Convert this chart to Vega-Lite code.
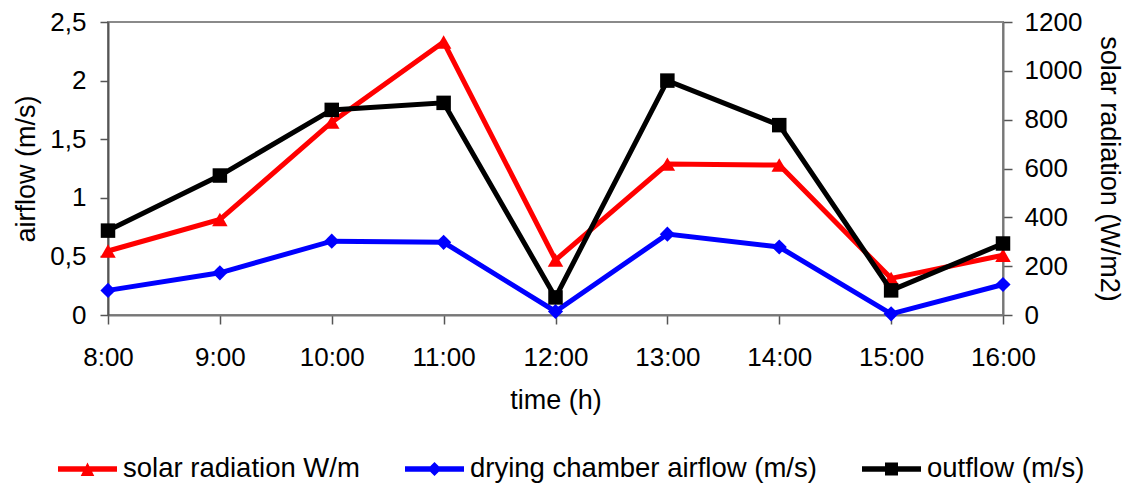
{
  "$schema": "https://vega.github.io/schema/vega-lite/v6.json",
  "autosize": {"type": "none"},
  "padding": {"left": 108, "top": 22, "right": 132, "bottom": 171},
  "width": 895,
  "height": 293,
  "background": "white",
  "config": {
    "font": "Liberation Sans",
    "view": {"stroke": "#8a8a8a", "strokeWidth": 2},
    "axis": {
      "labelFont": "Liberation Sans", "labelFontSize": 26, "labelColor": "#000000",
      "titleFont": "Liberation Sans", "titleFontSize": 27, "titleFontWeight": "normal", "titleColor": "#000000",
      "domainColor": "#555555", "domainWidth": 2, "tickColor": "#555555", "tickWidth": 1.5, "tickSize": 8,
      "grid": false
    }
  },
  "data": {"values": [
    {"time": "8:00", "series": "solar radiation W/m", "value": 262},
    {"time": "9:00", "series": "solar radiation W/m", "value": 391},
    {"time": "10:00", "series": "solar radiation W/m", "value": 790},
    {"time": "11:00", "series": "solar radiation W/m", "value": 1118},
    {"time": "12:00", "series": "solar radiation W/m", "value": 225},
    {"time": "13:00", "series": "solar radiation W/m", "value": 618},
    {"time": "14:00", "series": "solar radiation W/m", "value": 614},
    {"time": "15:00", "series": "solar radiation W/m", "value": 150},
    {"time": "16:00", "series": "solar radiation W/m", "value": 245},
    {"time": "8:00", "series": "drying chamber airflow (m/s)", "value": 0.21},
    {"time": "9:00", "series": "drying chamber airflow (m/s)", "value": 0.36},
    {"time": "10:00", "series": "drying chamber airflow (m/s)", "value": 0.63},
    {"time": "11:00", "series": "drying chamber airflow (m/s)", "value": 0.62},
    {"time": "12:00", "series": "drying chamber airflow (m/s)", "value": 0.03},
    {"time": "13:00", "series": "drying chamber airflow (m/s)", "value": 0.69},
    {"time": "14:00", "series": "drying chamber airflow (m/s)", "value": 0.58},
    {"time": "15:00", "series": "drying chamber airflow (m/s)", "value": 0.01},
    {"time": "16:00", "series": "drying chamber airflow (m/s)", "value": 0.26},
    {"time": "8:00", "series": "outflow (m/s)", "value": 0.72},
    {"time": "9:00", "series": "outflow (m/s)", "value": 1.19},
    {"time": "10:00", "series": "outflow (m/s)", "value": 1.75},
    {"time": "11:00", "series": "outflow (m/s)", "value": 1.81},
    {"time": "12:00", "series": "outflow (m/s)", "value": 0.15},
    {"time": "13:00", "series": "outflow (m/s)", "value": 2.0},
    {"time": "14:00", "series": "outflow (m/s)", "value": 1.62},
    {"time": "15:00", "series": "outflow (m/s)", "value": 0.21},
    {"time": "16:00", "series": "outflow (m/s)", "value": 0.61}
  ]},
  "encoding": {
    "x": {
      "field": "time", "type": "ordinal",
      "sort": ["8:00","9:00","10:00","11:00","12:00","13:00","14:00","15:00","16:00"],
      "scale": {"type": "point", "padding": 0},
      "axis": {"title": "time (h)", "labelAngle": 0, "labelPadding": 20, "titlePadding": 17, "domainColor": "#777777", "tickSize": 9}
    },
    "color": {
      "field": "series", "type": "nominal",
      "scale": {"domain": ["solar radiation W/m", "drying chamber airflow (m/s)", "outflow (m/s)"], "range": ["#ff0000", "#0000ff", "#000000"]},
      "legend": {
        "orient": "none", "legendX": -50, "legendY": 417.5, "direction": "horizontal",
        "title": null, "padding": 0,
        "labelFont": "Liberation Sans", "labelFontSize": 27.5, "labelColor": "#000000", "labelLimit": 0,
        "labelOffset": 6, "columnPadding": 45, "symbolSize": 3481, "symbolStrokeWidth": 0,
        "encode": {"symbols": {"update": {
          "shape": {"signal": "datum.value === 'solar radiation W/m' ? 'M-1,-0.095H1V0.095H-1Z M0,-0.22L0.23,0.24H-0.23Z' : (datum.value === 'drying chamber airflow (m/s)' ? 'M-1,-0.095H1V0.095H-1Z M0,-0.24L0.24,0L0,0.24L-0.24,0Z' : 'M-1,-0.095H1V0.095H-1Z M-0.22,-0.22H0.22V0.22H-0.22Z')"},
          "fill": {"scale": "color", "field": "value"},
          "stroke": {"value": "transparent"},
          "strokeWidth": {"value": 0},
          "opacity": {"value": 1}
        }}}
      }
    }
  },
  "layer": [
    {
      "transform": [{"filter": "datum.series === 'drying chamber airflow (m/s)'"}],
      "mark": {"type": "line", "strokeWidth": 5, "point": {"filled": true, "shape": "diamond", "size": 230, "opacity": 1}},
      "encoding": {
        "y": {"field": "value", "type": "quantitative",
          "scale": {"domain": [0, 2.5], "nice": false, "zero": true},
          "axis": {"title": "airflow (m/s)", "orient": "left", "values": [0, 0.5, 1, 1.5, 2, 2.5],
            "labelExpr": "replace(format(datum.value, '~g'), '.', ',')", "labelPadding": 14, "titlePadding": 9}}
      }
    },
    {
      "transform": [{"filter": "datum.series === 'solar radiation W/m'"}],
      "mark": {"type": "line", "strokeWidth": 5, "point": {"filled": true, "shape": "triangle-up", "size": 240, "opacity": 1}},
      "encoding": {
        "y": {"field": "value", "type": "quantitative",
          "scale": {"domain": [0, 1200], "nice": false, "zero": true},
          "axis": {"title": "solar radiation (W/m2)", "orient": "right", "values": [0, 200, 400, 600, 800, 1000, 1200],
            "format": "d", "labelPadding": 12, "titlePadding": 13, "tickSize": 9, "domainColor": "#777777"}}
      }
    },
    {
      "transform": [{"filter": "datum.series === 'outflow (m/s)'"}],
      "mark": {"type": "line", "strokeWidth": 5, "point": {"filled": true, "shape": "square", "size": 210, "opacity": 1}},
      "encoding": {
        "y": {"field": "value", "type": "quantitative",
          "scale": {"domain": [0, 2.5], "nice": false, "zero": true},
          "axis": null}
      }
    }
  ],
  "resolve": {"scale": {"y": "independent"}}
}
